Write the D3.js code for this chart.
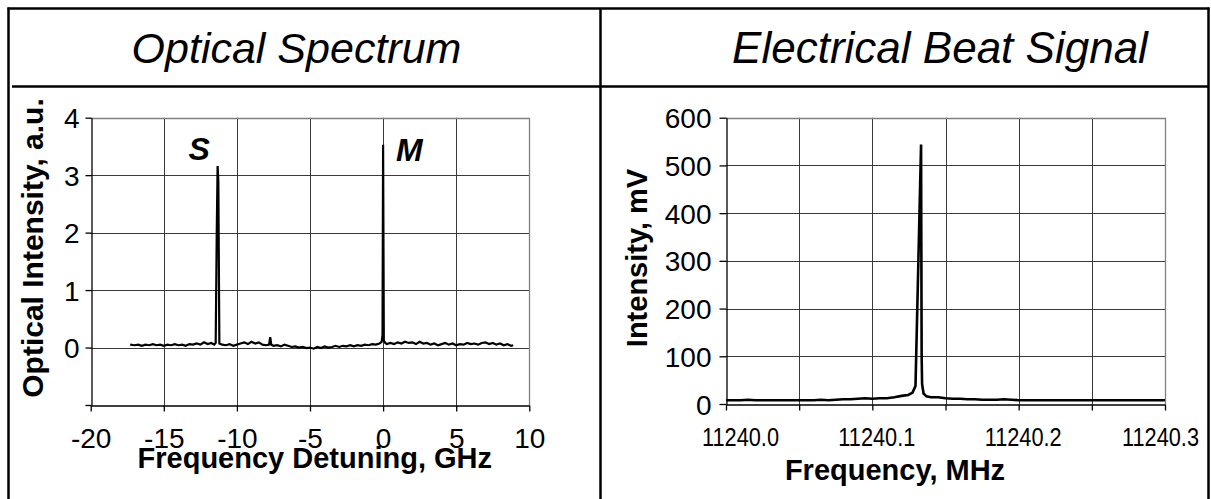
<!DOCTYPE html>
<html>
<head>
<meta charset="utf-8">
<script src="https://cdn.jsdelivr.net/npm/d3@7"></script>
<style>
  html, body { margin: 0; padding: 0; background: #fff; }
  svg { display: block; }
  text { font-family: "Liberation Sans", Arial, Helvetica, sans-serif; fill: #000; }
</style>
</head>
<body>
<script>
// ---------- DATA ----------
const panelTitles = ["Optical Spectrum", "Electrical Beat Signal"];

// Optical spectrum (left)
const opticalFreq = [-17.3,-17.0,-16.75,-16.5,-16.25,-16.0,-15.75,-15.5,-15.25,-15.0,-14.75,-14.5,-14.25,-14.0,-13.75,-13.5,-13.25,-13.0,-12.75,-12.5,-12.25,-12.0,-11.75,-11.55,-11.45,-11.38,-11.32,-11.27,-11.2,-11.0,-10.75,-10.5,-10.25,-10.0,-9.75,-9.5,-9.25,-9.0,-8.75,-8.5,-8.25,-8.0,-7.8,-7.72,-7.65,-7.5,-7.25,-7.0,-6.75,-6.5,-6.25,-6.0,-5.75,-5.5,-5.25,-5.0,-4.75,-4.5,-4.25,-4.0,-3.75,-3.5,-3.25,-3.0,-2.75,-2.5,-2.25,-2.0,-1.75,-1.5,-1.25,-1.0,-0.75,-0.5,-0.25,-0.1,-0.04,0.0,0.05,0.15,0.25,0.5,0.75,1.0,1.25,1.5,1.75,2.0,2.25,2.5,2.75,3.0,3.25,3.5,3.75,4.0,4.25,4.5,4.75,5.0,5.25,5.5,5.75,6.0,6.25,6.5,6.75,7.0,7.25,7.5,7.75,8.0,8.25,8.5,8.75,8.9];
const opticalInt = [0.05,0.04,0.05,0.03,0.05,0.04,0.06,0.04,0.05,0.03,0.05,0.04,0.06,0.04,0.05,0.03,0.06,0.05,0.07,0.05,0.09,0.06,0.08,0.05,0.08,1.95,3.16,2.9,0.07,0.05,0.04,0.06,0.03,0.05,0.07,0.09,0.06,0.1,0.07,0.09,0.05,0.04,0.05,0.18,0.05,0.03,0.04,0.02,0.05,0.03,0.01,0.02,0.0,0.01,-0.01,0.0,-0.02,0.01,-0.01,0.02,0.0,0.01,0.03,0.01,0.03,0.02,0.04,0.02,0.04,0.03,0.05,0.04,0.06,0.05,0.07,0.1,0.22,3.53,0.12,0.08,0.06,0.08,0.06,0.09,0.07,0.1,0.08,0.09,0.06,0.1,0.07,0.08,0.05,0.07,0.04,0.06,0.08,0.05,0.07,0.04,0.06,0.05,0.08,0.06,0.07,0.05,0.08,0.09,0.06,0.08,0.05,0.07,0.04,0.06,0.03,0.04];
const opticalXTicks = [-20,-15,-10,-5,0,5,10];
const opticalYTicks = [-1,0,1,2,3,4];
const peakLabels = [{name:"S", f:-11.3, v:3.27}, {name:"M", f:0, v:3.25}];

// Electrical beat signal (right)
const beatFreq = [11240.000,11240.005,11240.010,11240.015,11240.020,11240.025,11240.030,11240.035,11240.040,11240.045,11240.050,11240.055,11240.060,11240.065,11240.070,11240.075,11240.080,11240.085,11240.090,11240.095,11240.100,11240.105,11240.110,11240.115,11240.120,11240.1245,11240.1275,11240.1295,11240.1333,11240.1337,11240.1340,11240.1350,11240.1370,11240.140,11240.145,11240.150,11240.155,11240.160,11240.165,11240.170,11240.175,11240.180,11240.185,11240.190,11240.195,11240.200,11240.205,11240.210,11240.220,11240.230,11240.240,11240.250,11240.260,11240.270,11240.280,11240.290,11240.300];
const beatInt = [8,8,8,9,8,8,8,8,8,8,8,8,8,9,8,9,10,10,11,12,11,12,12,14,17,19,24,38,544,100,42,22,16,14,14,12,11,11,10,10,9,9,9,10,9,8,8,8,8,8,8,8,8,8,8,8,8];
const beatXTicks = [11240.0,11240.05,11240.1,11240.15,11240.2,11240.25,11240.3];
const beatXLabels = ["11240.0","","11240.1","","11240.2","","11240.3"];
const beatYTicks = [0,100,200,300,400,500,600];

// ---------- DRAW ----------
const W = 1211, H = 499;
const svg = d3.select("body").append("svg").attr("width", W).attr("height", H);

// table frame
const frame = svg.append("g").attr("stroke", "#000").attr("stroke-width", 2.5).attr("fill", "none");
frame.append("line").attr("x1", 7.5).attr("x2", 1209.5).attr("y1", 8.5).attr("y2", 8.5);
frame.append("line").attr("x1", 8.5).attr("x2", 8.5).attr("y1", 7.5).attr("y2", H);
frame.append("line").attr("x1", 1208.5).attr("x2", 1208.5).attr("y1", 7.5).attr("y2", H);
frame.append("line").attr("x1", 12).attr("x2", 1208).attr("y1", 86.5).attr("y2", 86.5);
frame.append("line").attr("x1", 600.5).attr("x2", 600.5).attr("y1", 8).attr("y2", H);

// panel titles
svg.append("text").attr("x", 296.5).attr("y", 63).attr("text-anchor", "middle")
  .attr("font-size", 43).attr("font-style", "italic").text(panelTitles[0]);
svg.append("text").attr("x", 940).attr("y", 63).attr("text-anchor", "middle")
  .attr("font-size", 44).attr("font-style", "italic").text(panelTitles[1]);

function plotPanel(opts) {
  const {x, y, xTicks, yTicks, freq, vals} = opts;
  const [x0, x1] = x.range();
  const [y0, y1] = y.range(); // y0 bottom, y1 top
  const g = svg.append("g");

  // horizontal gridlines
  g.append("g").selectAll("line").data(yTicks.slice(0, -1).filter(d => y(d) < y0 - 1))
    .join("line")
    .attr("x1", x0).attr("x2", x1)
    .attr("y1", d => Math.round(y(d)) + 0.5).attr("y2", d => Math.round(y(d)) + 0.5)
    .attr("stroke", "#3a3a3a").attr("stroke-width", 1);
  // vertical gridlines
  g.append("g").selectAll("line").data(xTicks.slice(1, -1))
    .join("line")
    .attr("y1", y0).attr("y2", y1)
    .attr("x1", d => Math.round(x(d)) + 0.5).attr("x2", d => Math.round(x(d)) + 0.5)
    .attr("stroke", "#3a3a3a").attr("stroke-width", 1);
  // top & right frame (gray)
  g.append("path")
    .attr("d", `M${x0},${Math.round(y1) + 0.5}H${Math.round(x1) + 0.5}V${y0}`)
    .attr("fill", "none").attr("stroke", "#808080").attr("stroke-width", 1.3);

  // axes
  const ya = g.append("g").attr("transform", `translate(${Math.round(x0) + 0.5},0)`)
    .call(d3.axisLeft(y).tickValues(yTicks).tickSize(opts.yTickSize).tickSizeOuter(0)
      .tickFormat(opts.yFormat));
  const xa = g.append("g").attr("transform", `translate(0,${Math.round(y0) + 0.5})`)
    .call(d3.axisBottom(x).tickValues(xTicks).tickSize(6).tickSizeOuter(0)
      .tickFormat(opts.xFormat));
  [ya, xa].forEach(a => {
    a.select(".domain").attr("stroke", "#000").attr("stroke-width", 1.3);
    a.selectAll(".tick line").attr("stroke", "#000").attr("stroke-width", 1.3);
    a.selectAll("text").attr("font-family", null);
  });
  ya.selectAll("text").attr("font-size", opts.yFont).attr("x", opts.yLabelX).attr("dy", "0.36em");
  xa.selectAll("text").attr("font-size", opts.xFont).attr("y", opts.xLabelY).attr("dy", 0);
  const sx = opts.xScaleX || 1;
  if (sx !== 1) xa.selectAll("text").attr("transform", `scale(${sx},1)`);
  if (opts.xLabelDx) xa.selectAll("text").attr("dx", (d, i) => opts.xLabelDx(d, i) / sx);

  // data line
  g.append("path")
    .datum(freq.map((f, i) => [f, vals[i]]))
    .attr("d", d3.line().x(d => x(d[0])).y(d => y(d[1])))
    .attr("fill", "none").attr("stroke", "#000").attr("stroke-width", opts.lineW)
    .attr("stroke-linejoin", "miter");
  return g;
}

// Left: optical spectrum
const xL = d3.scaleLinear().domain([-20, 10]).range([90.7, 529.3]);
const yL = d3.scaleLinear().domain([-1, 4]).range([405, 117.7]);
const gL = plotPanel({
  x: xL, y: yL, xTicks: opticalXTicks, yTicks: opticalYTicks,
  freq: opticalFreq, vals: opticalInt,
  yTickSize: 6, yFormat: d => d === -1 ? "" : String(d), yFont: 28, yLabelX: -12,
  xFormat: d => String(d), xFont: 28, xLabelY: 42, lineW: 2.2
});
gL.selectAll(".peak").data(peakLabels).join("text")
  .attr("class", "peak")
  .attr("x", d => d.name === "S" ? xL(d.f) - 8 : xL(d.f) + 13)
  .attr("y", d => yL(d.v))
  .attr("text-anchor", d => d.name === "S" ? "end" : "start")
  .attr("font-size", 32).attr("font-weight", "bold").attr("font-style", "italic")
  .text(d => d.name);
svg.append("text").attr("x", 314.8).attr("y", 468).attr("text-anchor", "middle")
  .attr("font-size", 29).attr("font-weight", "bold").text("Frequency Detuning, GHz");
svg.append("text").attr("transform", "translate(43,248) rotate(-90)").attr("text-anchor", "middle")
  .attr("font-size", 30).attr("font-weight", "bold").text("Optical Intensity, a.u.");

// Right: electrical beat signal
const xR = d3.scaleLinear().domain([11240.0, 11240.3]).range([726, 1165]);
const yR = d3.scaleLinear().domain([0, 600]).range([404, 117.7]);
plotPanel({
  x: xR, y: yR, xTicks: beatXTicks, yTicks: beatYTicks,
  freq: beatFreq, vals: beatInt,
  yTickSize: 7, yFormat: d => String(d), yFont: 28, yLabelX: -15,
  xFormat: (d, i) => beatXLabels[i], xFont: 25, xLabelY: 42, xScaleX: 0.87,
  xLabelDx: (d, i) => i === 0 ? 14 : (i === 6 ? -5 : 4),
  lineW: 2.6
});
svg.append("text").attr("x", 895).attr("y", 480).attr("text-anchor", "middle")
  .attr("font-size", 29).attr("font-weight", "bold").text("Frequency, MHz");
svg.append("text").attr("transform", "translate(647,258) rotate(-90)").attr("text-anchor", "middle")
  .attr("font-size", 29).attr("font-weight", "bold").text("Intensity, mV");
</script>
</body>
</html>
